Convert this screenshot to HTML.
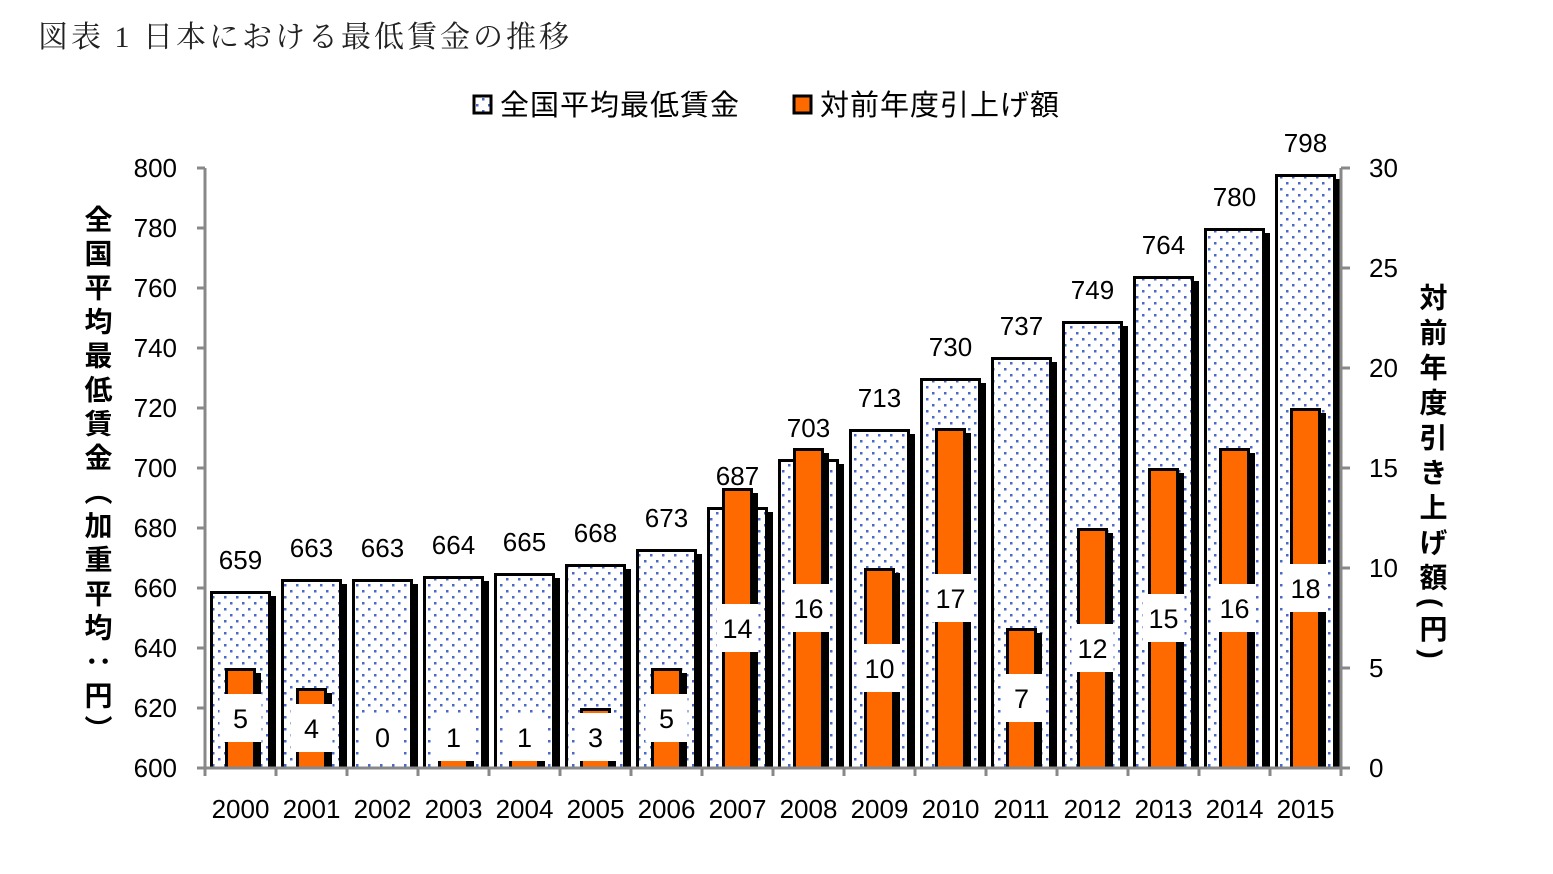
<!DOCTYPE html>
<html><head><meta charset="utf-8">
<style>
body{margin:0;background:#fff;}
svg text{font-family:"Liberation Sans","Noto Sans CJK JP",sans-serif;}
</style></head>
<body>
<svg id="chart" width="1553" height="869" viewBox="0 0 1553 869" xmlns="http://www.w3.org/2000/svg">
<defs>
<pattern id="dots" patternUnits="userSpaceOnUse" width="12" height="12">
<rect width="12" height="12" fill="#fff"/>
<rect x="2" y="2" width="2.5" height="2.5" fill="#4a68c4"/>
<rect x="8" y="8" width="2.5" height="2.5" fill="#4a68c4"/>
</pattern>
</defs>
<text x="38" y="47" font-size="30" fill="#222" letter-spacing="3" style="font-family:'Liberation Serif','Noto Serif CJK SC',serif">図表 1  日本における最低賃金の推移</text>
<g>
<rect x="474" y="96" width="17" height="17" fill="url(#dots)" stroke="#000" stroke-width="3"/>
<text x="500" y="115" font-size="29" letter-spacing="1" fill="#000">全国平均最低賃金</text>
<rect x="794" y="96" width="17" height="17" fill="#ff6a00" stroke="#000" stroke-width="3"/>
<text x="820" y="115" font-size="29" letter-spacing="1" fill="#000">対前年度引上げ額</text>
</g>
<g id="plot"></g>
<text font-size="28" font-weight="bold" fill="#000" letter-spacing="6" style="writing-mode:vertical-rl" x="97" y="205">全国平均最低賃金（加重平均：円）</text>
<text font-size="28" font-weight="bold" fill="#000" letter-spacing="7" style="writing-mode:vertical-rl" x="1432" y="283">対前年度引き上げ額(円)</text>
</svg>
<script>
const years=["2000","2001","2002","2003","2004","2005","2006","2007","2008","2009","2010","2011","2012","2013","2014","2015"];
const wages=[659,663,663,664,665,668,673,687,703,713,730,737,749,764,780,798];
const increases=[5,4,0,1,1,3,5,14,16,10,17,7,12,15,16,18];
const leftTicks=[600,620,640,660,680,700,720,740,760,780,800];
const rightTicks=[0,5,10,15,20,25,30];

const NS="http://www.w3.org/2000/svg";
const g=document.getElementById('plot');
const X0=205,X1=1341,YT=168,YB=768;
const band=(X1-X0)/years.length;
const yL=v=>YB-(v-600)/200*(YB-YT);
const yR=v=>YB-v/30*(YB-YT);
const xB=i=>X0+i*band;
function el(t,a,p){const e=document.createElementNS(NS,t);for(const k in a)e.setAttribute(k,a[k]);(p||g).appendChild(e);return e;}

years.forEach((yr,i)=>{
  const bx=xB(i)+5,bw=band-10,ty=yL(wages[i]);
  const sh=el('rect',{x:bx+5,y:ty+5,width:bw,height:YB-ty-5,fill:'#000'});
  
  
  const r=el('rect',{x:bx+1.5,y:ty+1.5,width:bw-3,height:YB-ty-1.5,fill:'url(#dots)',stroke:'#000','stroke-width':3});
  
  
  const t=el('text',{x:bx+bw/2,y:ty-22,'text-anchor':'middle','font-size':26,fill:'#000'});
  t.textContent=wages[i];
  
  
  const cx=xB(i)+band/2,ow=31,oy=yR(increases[i]);
  if(increases[i]>0){
    const s2=el('rect',{x:cx-ow/2+5,y:oy+5,width:ow,height:YB-oy-5,fill:'#000'});
    
    
    const o=el('rect',{x:cx-ow/2+1.5,y:oy+1.5,width:ow-3,height:YB-oy-1.5,fill:'#ff6a00',stroke:'#000','stroke-width':3});
    
    
  }
  const lc=Math.min(YB-(YB-oy)/2,737);
  const lb=el('rect',{x:cx-21,y:lc-24,width:42,height:48,fill:'#fff'});
  
  
  const lt=el('text',{x:cx,y:lc+10,'text-anchor':'middle','font-size':27,fill:'#000'});
  lt.textContent=increases[i];
  
  
  const xt=el('text',{x:cx,y:818,'text-anchor':'middle','font-size':26,fill:'#000'});
  xt.textContent=yr;
  
  
});
// axes
const ax=el('line',{x1:X0,y1:YT,x2:X0,y2:YB+8,stroke:'#888','stroke-width':3});


const ax2=el('line',{x1:X1,y1:YT,x2:X1,y2:YB+8,stroke:'#888','stroke-width':3});


const ax3=el('line',{x1:X0-8,y1:YB,x2:X1+8,y2:YB,stroke:'#888','stroke-width':3});


for(let i=1;i<years.length;i++){
  const tk=el('line',{x1:xB(i),y1:YB,x2:xB(i),y2:YB+8,stroke:'#888','stroke-width':3});
  
  
}
leftTicks.forEach(v=>{
  const tk=el('line',{x1:X0-8,y1:yL(v),x2:X0,y2:yL(v),stroke:'#888','stroke-width':3});
  
  
  const t=el('text',{x:177,y:yL(v)+9,'text-anchor':'end','font-size':26,fill:'#000'});
  t.textContent=v;
  
  
});
rightTicks.forEach(v=>{
  const tk=el('line',{x1:X1,y1:yR(v),x2:X1+9,y2:yR(v),stroke:'#888','stroke-width':3});
  
  
  const t=el('text',{x:1369,y:yR(v)+9,'text-anchor':'start','font-size':26,fill:'#000'});
  t.textContent=v;
  
  
});
</script>
</body></html>
